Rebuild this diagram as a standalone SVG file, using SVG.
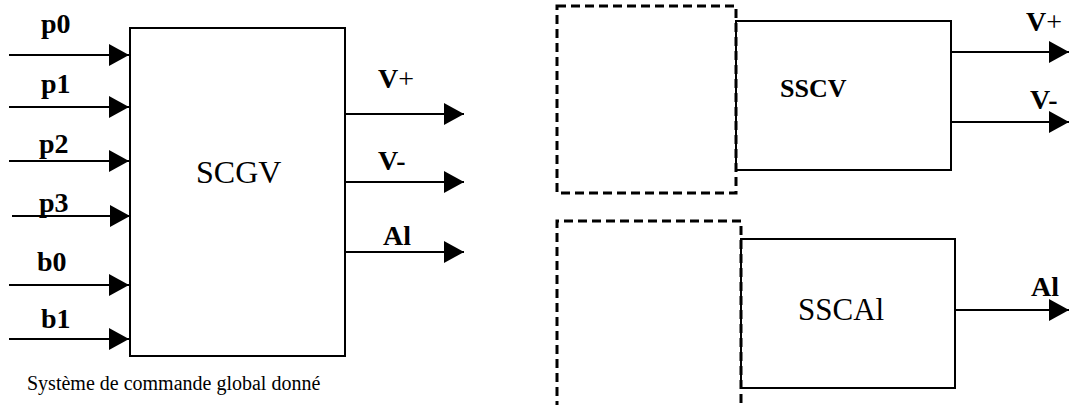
<svg xmlns="http://www.w3.org/2000/svg" width="1069" height="405" viewBox="0 0 1069 405">
<style>
.box{fill:none;stroke:#000;stroke-width:2}
.dash{fill:none;stroke:#000;stroke-width:3;stroke-dasharray:9 5}
.ln{stroke:#000;stroke-width:2;fill:none;marker-end:url(#ah)}
.lb{font-family:"Liberation Serif","Times New Roman",serif;font-weight:bold;font-size:28px;fill:#000}
.tx{font-family:"Liberation Serif","Times New Roman",serif;font-size:31px;fill:#000}
.pl{font-weight:normal}
</style>
<defs>
<marker id="ah" markerUnits="userSpaceOnUse" markerWidth="20" markerHeight="22" refX="20" refY="11" orient="auto">
<path d="M0,0 L20,11 L0,22 z" fill="#000"/>
</marker>
</defs>
<rect width="1069" height="405" fill="#fff"/>
<g id="connectors">
<line class="ln" x1="9" y1="55" x2="129" y2="55"/>
<line class="ln" x1="9" y1="107" x2="129" y2="107"/>
<line class="ln" x1="9" y1="161" x2="129" y2="161"/>
<line class="ln" x1="12" y1="216" x2="130" y2="216"/>
<line class="ln" x1="9" y1="285" x2="129" y2="285"/>
<line class="ln" x1="9" y1="339" x2="129" y2="339"/>
<line class="ln" x1="345" y1="114" x2="464" y2="114"/>
<line class="ln" x1="345" y1="182" x2="464" y2="182"/>
<line class="ln" x1="345" y1="252" x2="464" y2="252"/>
<line class="ln" x1="951" y1="52" x2="1069" y2="52"/>
<line class="ln" x1="951" y1="122" x2="1069" y2="122"/>
<line class="ln" x1="955" y1="310" x2="1069" y2="310"/>
</g>
<g id="labels">
<text class="lb" x="41" y="33">p0</text>
<text class="lb" x="41" y="93">p1</text>
<text class="lb" x="39" y="153">p2</text>
<text class="lb" x="39" y="212">p3</text>
<text class="lb" x="37" y="271">b0</text>
<text class="lb" x="41" y="328">b1</text>
<text class="lb" x="378" y="88">V<tspan class="pl">+</tspan></text>
<text class="lb" x="378" y="170">V-</text>
<text class="lb" x="383" y="245">Al</text>
<text class="lb" x="1026" y="31">V<tspan class="pl">+</tspan></text>
<text class="lb" x="1030" y="109">V-</text>
<text class="lb" x="1031" y="296">Al</text>
</g>
<g id="SCGV">
<rect class="box" x="130" y="28" width="215" height="328"/>
<text class="tx" x="196" y="183" style="font-size:32px">SCGV</text>
</g>
<g id="dashed-top">
<rect class="dash" x="557" y="6" width="179" height="187"/>
</g>
<g id="SSCV">
<rect class="box" x="736" y="21" width="215" height="149"/>
<text class="lb" x="780" y="97" style="font-size:26px">SSCV</text>
</g>
<g id="dashed-bottom">
<path class="dash" d="M557,410 L557,221 L741,221 L741,410"/>
</g>
<g id="SSCAl">
<rect class="box" x="741" y="239" width="214" height="149"/>
<text class="tx" x="798" y="320">SSCAl</text>
</g>
<g id="caption">
<text class="tx" x="27" y="390" style="font-size:20px">Système de commande global donné</text>
</g>
</svg>
